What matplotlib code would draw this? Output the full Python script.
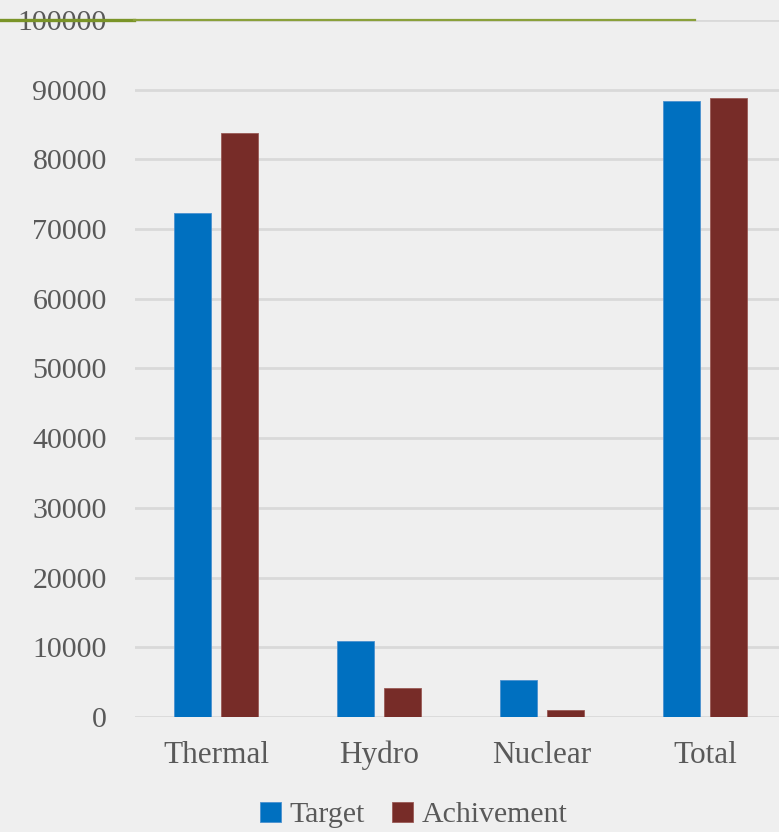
import numpy as np
import matplotlib
matplotlib.use("Agg")
import matplotlib.pyplot as plt
from matplotlib.lines import Line2D

categories = ["Thermal", "Hydro", "Nuclear", "Total"]
target = [72300, 10900, 5300, 88400]
achivement = [83800, 4200, 1000, 88800]
yticks = list(range(0, 100001, 10000))

blue = "#0070c0"
maroon = "#772c28"
grey_txt = "#595959"
bg = "#efefef"

plt.rcParams["font.family"] = ["Liberation Serif", "DejaVu Serif"]

fig = plt.figure(figsize=(7.79, 8.32), dpi=100)
fig.patch.set_facecolor(bg)
ax = fig.add_axes([0.1727, 0.1382, 0.837, 0.8378])
ax.set_facecolor(bg)

x = np.arange(len(categories))
w = 0.227
ax.bar(x - 0.143, target, w, color=blue, edgecolor="#4a90cf", linewidth=0.6, label="Target", zorder=3)
ax.bar(x + 0.143, achivement, w, color=maroon, edgecolor="#9a5a56", linewidth=0.6, label="Achivement", zorder=3)

ax.set_xlim(-0.5, len(categories) - 0.5)
ax.set_ylim(0, 100000)
ax.set_yticks(yticks)
ax.set_xticks(x)
ax.set_xticklabels(categories)
ax.grid(axis="y", color="#d9d9d9", linewidth=2, zorder=0)
ax.tick_params(axis="y", length=0, pad=20, labelsize=21.5, labelcolor=grey_txt)
ax.tick_params(axis="x", length=0, pad=17, labelsize=22.5, labelcolor=grey_txt)
for s in ax.spines.values():
    s.set_visible(False)

# olive accent line across the top
fig.add_artist(Line2D([0, 134 / 779], [1 - 20 / 832] * 2, color="#7a9428", linewidth=2.4, transform=fig.transFigure, zorder=5))
fig.add_artist(Line2D([134 / 779, 695 / 779], [1 - 20 / 832] * 2, color="#8aa03a", linewidth=1.6, transform=fig.transFigure, zorder=5))

fig.legend(loc="center", bbox_to_anchor=(0.531, 1 - 815 / 832), ncol=2, frameon=False,
           fontsize=21.5, labelcolor=grey_txt, handlelength=0.7, handleheight=0.7,
           handletextpad=0.3, columnspacing=0.9)

fig.savefig("out.png", dpi=100, facecolor=bg)
